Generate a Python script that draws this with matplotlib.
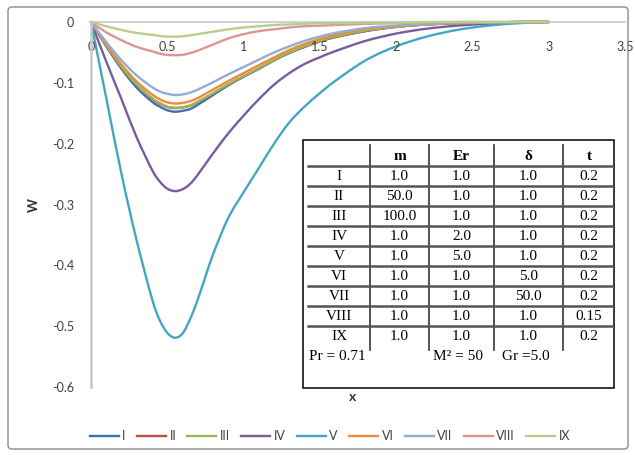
import matplotlib
matplotlib.use('Agg')

import matplotlib.pyplot as plt
import matplotlib.patches as patches
from matplotlib.path import Path
from matplotlib.lines import Line2D

# x positions of the data points
x_vals = [0, 0.1, 0.2, 0.3, 0.4, 0.45, 0.5, 0.55, 0.6, 0.65, 0.7, 0.8, 0.9, 1.0,
          1.1, 1.2, 1.3, 1.4, 1.5, 1.6, 1.8, 2.0, 2.2, 2.4, 2.6, 2.8, 3.0]

# W profiles
w_I = [0, -0.040, -0.077, -0.108, -0.131, -0.139, -0.145, -0.1475, -0.146, -0.143, -0.136,
       -0.120, -0.104, -0.090, -0.077, -0.063, -0.051, -0.041, -0.032, -0.025, -0.015,
       -0.008, -0.004, -0.002, -0.001, 0, 0]
w_II = [0, -0.038, -0.074, -0.103, -0.126, -0.134, -0.1395, -0.1415, -0.1405, -0.1375, -0.1315,
        -0.1175, -0.1025, -0.0895, -0.0765, -0.0625, -0.0505, -0.0405, -0.0315, -0.0245, -0.0145,
        -0.008, -0.004, -0.002, -0.001, 0, 0]
w_III = [0, -0.038, -0.074, -0.103, -0.125, -0.133, -0.139, -0.141, -0.140, -0.137, -0.131,
         -0.117, -0.102, -0.089, -0.076, -0.062, -0.050, -0.040, -0.031, -0.024, -0.014,
         -0.008, -0.004, -0.002, -0.001, 0, 0]
w_IV = [0, -0.065, -0.127, -0.190, -0.243, -0.262, -0.274, -0.278, -0.275, -0.266, -0.251,
        -0.216, -0.183, -0.154, -0.127, -0.103, -0.084, -0.069, -0.058, -0.048, -0.031,
        -0.019, -0.011, -0.006, -0.003, -0.001, 0]
w_V = [0, -0.125, -0.250, -0.360, -0.455, -0.490, -0.511, -0.519, -0.512, -0.488, -0.456,
       -0.382, -0.322, -0.280, -0.240, -0.200, -0.165, -0.139, -0.117, -0.097, -0.063,
       -0.040, -0.024, -0.013, -0.006, -0.002, 0]
w_VI = [0, -0.036, -0.070, -0.098, -0.119, -0.127, -0.132, -0.134, -0.133, -0.130, -0.125,
        -0.111, -0.097, -0.084, -0.071, -0.058, -0.046, -0.036, -0.028, -0.021, -0.012,
        -0.007, -0.003, -0.002, -0.001, 0, 0]
w_VII = [0, -0.033, -0.063, -0.088, -0.107, -0.114, -0.118, -0.120, -0.119, -0.116, -0.111,
         -0.099, -0.086, -0.074, -0.062, -0.050, -0.040, -0.031, -0.024, -0.018, -0.010,
         -0.006, -0.003, -0.001, -0.001, 0, 0]
w_VIII = [0, -0.017, -0.030, -0.041, -0.048, -0.052, -0.054, -0.0545, -0.054, -0.051, -0.047,
          -0.037, -0.027, -0.020, -0.015, -0.012, -0.009, -0.007, -0.006, -0.005, -0.003,
          -0.002, -0.001, 0, 0, 0, 0]
w_IX = [0, -0.007, -0.013, -0.018, -0.021, -0.023, -0.024, -0.024, -0.0235, -0.022, -0.020,
        -0.016, -0.012, -0.009, -0.007, -0.005, -0.004, -0.003, -0.002, -0.002, -0.001,
        -0.001, 0, 0, 0, 0, 0]

series_names = ['I', 'II', 'III', 'IV', 'V', 'VI', 'VII', 'VIII', 'IX']
series_data = [w_I, w_II, w_III, w_IV, w_V, w_VI, w_VII, w_VIII, w_IX]
series_colors = ['#3F6FB4', '#BE4B48', '#98B954', '#7A5C9E', '#43A7C1',
                 '#F08A3C', '#90ADD5', '#DA9694', '#B7CF8C']

x_ticks = [0, 0.5, 1, 1.5, 2, 2.5, 3, 3.5]
x_tick_labels = ['0', '0.5', '1', '1.5', '2', '2.5', '3', '3.5']
y_ticks = [0, -0.1, -0.2, -0.3, -0.4, -0.5, -0.6]
y_tick_labels = ['0', '-0.1', '-0.2', '-0.3', '-0.4', '-0.5', '-0.6']

# parameter table
table_header = ['m', 'Er', '\u03b4', 't']
m_vals = ['1.0', '50.0', '100.0', '1.0', '1.0', '1.0', '1.0', '1.0', '1.0']
er_vals = ['1.0', '1.0', '1.0', '2.0', '5.0', '1.0', '1.0', '1.0', '1.0']
delta_vals = ['1.0', '1.0', '1.0', '1.0', '1.0', '5.0', '50.0', '1.0', '1.0']
t_vals = ['0.2', '0.2', '0.2', '0.2', '0.2', '0.2', '0.2', '0.15', '0.2']
footer_texts = ['Pr = 0.71', 'M\u00b2 = 50', 'Gr =5.0']

W, H = 635, 455
AXIS_GREY = '#C8C8C8'
LABEL_COLOR = '#404040'
SANS = 'Lato'
SERIF = 'Liberation Serif'
LW = 1.7


def smooth_path(xs, ys):
    """Excel-style smoothed line: cubic Bezier segments through every data point."""
    n = len(xs)
    verts = [(xs[0], ys[0])]
    codes = [Path.MOVETO]
    for i in range(n - 1):
        i0 = max(i - 1, 0)
        i3 = min(i + 2, n - 1)
        c1 = (xs[i] + (xs[i + 1] - xs[i0]) / 6, ys[i] + (ys[i + 1] - ys[i0]) / 6)
        c2 = (xs[i + 1] - (xs[i3] - xs[i]) / 6, ys[i + 1] - (ys[i3] - ys[i]) / 6)
        verts += [c1, c2, (xs[i + 1], ys[i + 1])]
        codes += [Path.CURVE4] * 3
    return Path(verts, codes)


fig = plt.figure(figsize=(W / 100, H / 100), dpi=100)
fig.patch.set_facecolor('white')

# main plot area (pixel-matched to the reference)
ax = fig.add_axes([91 / W, 1 - 387 / H, 534 / W, 365 / H])
handles = []
for name, ys, col in zip(series_names, series_data, series_colors):
    ax.add_patch(patches.PathPatch(smooth_path(x_vals, ys), facecolor='none',
                                   edgecolor=col, lw=LW, clip_on=False,
                                   capstyle='round', joinstyle='round'))
    handles.append(Line2D([], [], color=col, lw=LW, label=name))

ax.set_xlim(0, 3.5)
ax.set_ylim(-0.6, 0)
ax.spines['top'].set_visible(False)
ax.spines['right'].set_visible(False)
ax.spines['bottom'].set_position(('data', 0))
ax.spines['bottom'].set_color(AXIS_GREY)
ax.spines['bottom'].set_linewidth(1.2)
ax.spines['bottom'].set_zorder(0)
ax.spines['left'].set_color(AXIS_GREY)
ax.spines['left'].set_linewidth(1.8)

ax.set_xticks(x_ticks)
ax.set_xticklabels(x_tick_labels)
ax.set_yticks(y_ticks)
ax.set_yticklabels(y_tick_labels)
ax.tick_params(axis='x', length=0, pad=14, labelsize=9, labelcolor=LABEL_COLOR)
ax.tick_params(axis='y', length=0, pad=12, labelsize=9, labelcolor=LABEL_COLOR)
for lab in ax.get_xticklabels() + ax.get_yticklabels():
    lab.set_fontfamily(SANS)

# overlay in pixel coordinates for labels, table and border
ov = fig.add_axes([0, 0, 1, 1], zorder=5)
ov.set_xlim(0, W)
ov.set_ylim(H, 0)
ov.axis('off')
ov.patch.set_alpha(0)

ov.add_patch(patches.FancyBboxPatch((8, 7), 620, 442, boxstyle='round,pad=0,rounding_size=4',
                                    lw=1, edgecolor='#8C8C8C', facecolor='none'))

ov.text(34, 205, 'W', rotation=90, ha='center', va='center', fontsize=9.5,
        fontweight='bold', family=SANS, color='#333333')
ov.text(353, 397, 'x', ha='center', va='center', fontsize=10,
        fontweight='bold', family=SANS, color='#333333')

# table box
ov.add_patch(patches.Rectangle((303, 140), 311, 248, lw=1.1, edgecolor='black',
                               facecolor='white'))
col_edges = [370, 429, 494, 563]
for cx in col_edges:
    ov.plot([cx, cx], [145, 350], color='#333333', lw=1.2)
row_lines = [166, 186, 206, 226, 246, 266, 286, 306, 326]
for ry in row_lines:
    ov.plot([308, 612], [ry, ry], color='#555555', lw=1.8)

col_centers = [339, 399.5, 461.5, 528.5, 589]
for cx, txt in zip(col_centers[1:], table_header):
    ov.text(cx, 156, txt, ha='center', va='center', fontsize=11,
            fontweight='bold', family=SERIF, color='black')
for i, name in enumerate(series_names):
    ry = 176 + 20 * i
    row = [name, m_vals[i], er_vals[i], delta_vals[i], t_vals[i]]
    for cx, txt in zip(col_centers, row):
        ov.text(cx, ry, txt, ha='center', va='center', fontsize=11,
                family=SERIF, color='black')

for fx, txt in zip([309, 433, 502], footer_texts):
    ov.text(fx, 356, txt, ha='left', va='center', fontsize=11,
            family=SERIF, color='black')

# legend along the bottom
leg = fig.legend(handles=handles, loc='center',
                 bbox_to_anchor=(330 / W, 1 - 436 / H), ncol=9, frameon=False,
                 handlelength=2.3, handletextpad=0.3, columnspacing=0.9,
                 prop={'family': SANS, 'size': 9})
for t in leg.get_texts():
    t.set_color(LABEL_COLOR)

fig.savefig('out.png', dpi=100, facecolor='white')
